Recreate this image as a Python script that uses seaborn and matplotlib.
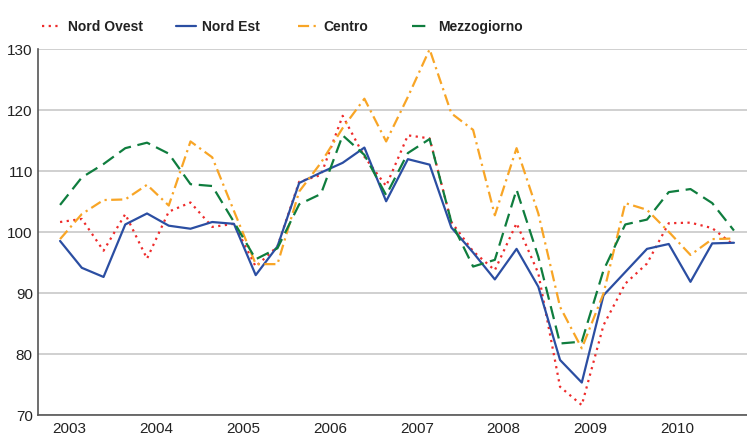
import numpy as np
import pandas as pd
import seaborn as sns
import matplotlib.pyplot as plt
import matplotlib.transforms as mtransforms

# quarterly index values 2003 Q1 - 2010 Q4
years = ["2003", "2004", "2005", "2006", "2007", "2008", "2009", "2010"]

nord_ovest = [101.7, 102.2, 97.0, 103.0, 95.7, 103.4, 104.9, 100.9,
              101.4, 94.4, 97.7, 108.3, 109.4, 119.1, 112.4, 107.6,
              115.9, 115.4, 101.7, 96.9, 93.8, 101.5, 93.3, 74.7,
              71.7, 84.8, 91.6, 94.9, 101.5, 101.6, 100.7, 97.9]
nord_est = [98.6, 94.2, 92.7, 101.3, 103.1, 101.1, 100.6, 101.7,
            101.4, 93.0, 97.7, 108.1, 109.8, 111.4, 113.9, 105.1,
            112.0, 111.1, 100.8, 96.7, 92.3, 97.3, 91.1, 79.1,
            75.4, 89.7, 93.5, 97.3, 98.1, 91.9, 98.2, 98.3]
centro = [98.9, 103.0, 105.3, 105.4, 107.8, 104.4, 114.9, 112.3,
          103.5, 94.8, 94.8, 106.7, 111.4, 117.1, 121.9, 114.9,
          122.2, 130.0, 119.5, 116.8, 102.8, 113.8, 103.1, 87.8,
          81.0, 90.0, 104.8, 103.7, 100.1, 96.3, 98.9, 99.0]
mezzogiorno = [104.5, 109.0, 111.2, 113.8, 114.7, 112.9, 107.9, 107.6,
               101.7, 95.6, 97.4, 104.6, 106.3, 115.9, 112.7, 106.1,
               113.0, 115.3, 101.7, 94.4, 95.5, 107.0, 96.0, 81.8,
               82.1, 93.8, 101.3, 102.1, 106.6, 107.1, 104.8, 100.3]

series_names = ["Nord Ovest", "Nord Est", "Centro", "Mezzogiorno"]
colors = ["#ee2b2b", "#2b4ea2", "#f8a526", "#0f7d3e"]
styles = [(0, (1, 2)), "-", (0, (5, 2, 1, 2)), (0, (6, 3))]
legend_x = [0.056, 0.236, 0.399, 0.552]  # left edge of each legend entry

quarter = np.arange(len(nord_est))
df = pd.DataFrame({"q": quarter, "Nord Ovest": nord_ovest, "Nord Est": nord_est,
                   "Centro": centro, "Mezzogiorno": mezzogiorno})

sns.set_style("white")
plt.rcParams["font.family"] = ["Liberation Sans", "DejaVu Sans"]

fig = plt.figure(figsize=(7.47, 4.37), dpi=100)
ax = fig.add_axes([0.0513, 0.0492, 0.9487, 0.8380])

for name, col, ls in zip(series_names, colors, styles):
    sns.lineplot(data=df, x="q", y=name, ax=ax, color=col, linestyle=ls,
                 linewidth=1.6, label=name)

ax.set_xlim(-1.0, 31.6)
ax.set_ylim(70, 130)
ax.set_yticks(np.arange(70, 131, 10))
ax.yaxis.grid(True, color="#c8c8c8", linewidth=1.2)
ax.set_axisbelow(True)

ax.set_xticks(np.arange(len(years)) * 4 - 0.5, years)
ax.set_xticks(np.arange(33) - 0.5, minor=True)
ax.tick_params(axis="x", which="major", direction="out", length=8, width=1,
               color="#444444", labelsize=11, labelcolor="#222222", pad=-3)
ax.tick_params(axis="x", which="minor", direction="inout", length=5, width=1,
               color="#444444")
ax.tick_params(axis="y", direction="out", length=2.5, width=1, color="#444444",
               labelsize=11, labelcolor="#222222", pad=1.5)
offset = mtransforms.ScaledTranslation(2 / 72, 0, fig.dpi_scale_trans)
for lab in ax.get_xticklabels():
    lab.set_horizontalalignment("left")
    lab.set_transform(lab.get_transform() + offset)

for s in ["top", "right"]:
    ax.spines[s].set_visible(False)
for s in ["left", "bottom"]:
    ax.spines[s].set_color("#555555")
    ax.spines[s].set_linewidth(1.2)

ax.set_xlabel("")
ax.set_ylabel("")
handles, labels = ax.get_legend_handles_labels()
ax.get_legend().remove()
for h, lab, x0 in zip(handles, labels, legend_x):
    leg = fig.legend([h], [lab], loc="center left", bbox_to_anchor=(x0, 0.939),
                     frameon=False, borderpad=0, borderaxespad=0,
                     handlelength=1.4, handletextpad=0.45,
                     prop={"weight": "bold", "size": 10})
    for t in leg.get_texts():
        t.set_color("#222222")

fig.savefig("out.png", dpi=100)
